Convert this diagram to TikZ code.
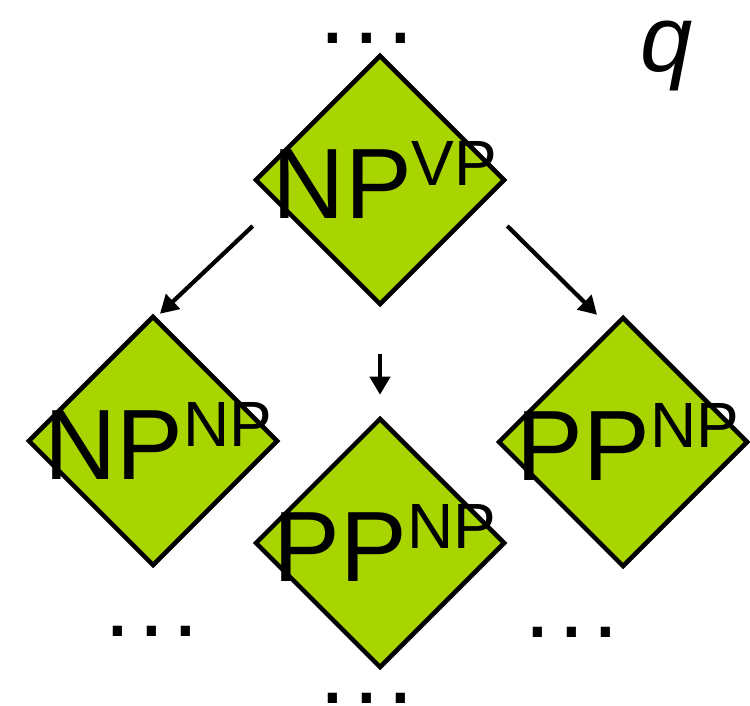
\documentclass[tikz,border=0pt]{standalone}
\usepackage{fontspec}
\setmainfont{Liberation Sans}
\usetikzlibrary{shapes.geometric,arrows.meta}

\definecolor{catgreen}{RGB}{168,212,0}
% category with its parent as a raised index
\newcommand{\catlabel}[2]{{\fontsize{100}{100}\selectfont #1}{\fontsize{64}{64}\selectfont\raisebox{33pt}{#2}}}
\newcommand{\moredots}{{\fontsize{96}{96}\selectfont.\kern7.3pt.\kern7.3pt.}}

\begin{document}
\begin{tikzpicture}[x=1pt,y=1pt,
    cat/.style={diamond, draw, line width=4.5pt, fill=catgreen,
      minimum width=250pt, minimum height=250pt, inner sep=0pt},
    lbl/.style={inner sep=0pt, xshift=5pt},
    arr/.style={line width=4.2pt, -{Triangle[length=18pt,width=20pt]}},
    more/.style={anchor=base, inner sep=0pt}]
\useasboundingbox (0,0) rectangle (750,705);

% states
\node[cat] (top) at (380,525) {};
\node[cat] (left) at (153,264) {};
\node[cat] (mid) at (380,162) {};
\node[cat] (right) at (623,263) {};

\node[lbl] (toplbl) at (top) {\catlabel{NP}{VP}};
\node[lbl] (leftlbl) at (left) {\catlabel{NP}{NP}};
\node[lbl] (midlbl) at (mid) {\catlabel{PP}{NP}};
\node[lbl] (rightlbl) at (right) {\catlabel{PP}{NP}};

% transitions
\draw[arr] ([yshift=-46pt]top.west) -- ([xshift=7pt]left.north);
\draw[arr] ([yshift=-46pt]top.east) -- ([xshift=-26pt]right.north);
\draw[arr, shorten <=47pt, shorten >=21pt] (top.south) -- (mid.north);

% continuations
\node[more] (dotstop) at (367,661) {\moredots};
\node[more] (dotsleft) at (152,69) {\moredots};
\node[more] (dotsright) at (572,68) {\moredots};
\node[more] (dotsmid) at (367,2) {\moredots};

\node[anchor=base, inner sep=0pt, font=\fontsize{94}{94}\selectfont\itshape] (q) at (667,633) {q};
\end{tikzpicture}
\end{document}
